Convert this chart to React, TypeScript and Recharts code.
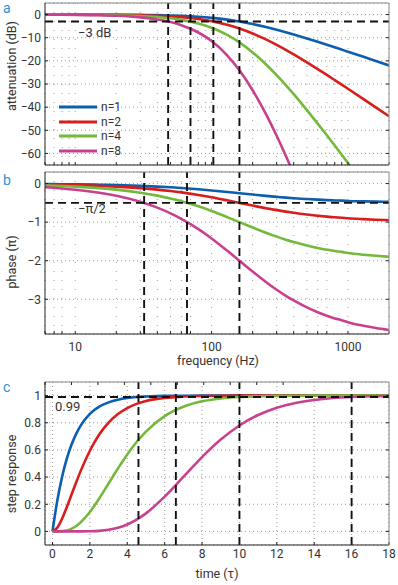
import React from "react";
import { CartesianGrid, Legend, Line, LineChart, ReferenceLine, XAxis, YAxis } from "recharts";

// frequency axis (Hz) shared by panels a and b
const FREQ = [6, 8, 10, 15, 20, 30, 40, 50, 60, 80, 100, 130, 160, 200, 250, 300, 350, 400, 500, 600, 700, 800, 900, 1000, 1300, 1600, 2000];

// attenuation (dB)
const ATT_N1 = [-0.01, -0.01, -0.02, -0.04, -0.07, -0.15, -0.26, -0.41, -0.57, -0.97, -1.43, -2.2, -3.01, -4.09, -5.37, -6.55, -7.62, -8.6, -10.32, -11.78, -13.04, -14.15, -15.14, -16.03, -18.26, -20.04, -21.97];
const ATT_N2 = [-0.01, -0.02, -0.03, -0.08, -0.13, -0.3, -0.53, -0.81, -1.14, -1.94, -2.86, -4.4, -6.02, -8.17, -10.73, -13.1, -15.25, -17.21, -20.64, -23.56, -26.08, -28.3, -30.27, -32.05, -36.52, -40.09, -43.93];
const ATT_N4 = [-0.02, -0.04, -0.07, -0.15, -0.27, -0.6, -1.05, -1.62, -2.28, -3.88, -5.73, -8.8, -12.04, -16.35, -21.47, -26.19, -30.49, -34.41, -41.28, -47.12, -52.16, -56.6, -60.55, -64.11, -73.05, null, null];
const ATT_N8 = [-0.05, -0.09, -0.14, -0.3, -0.54, -1.2, -2.1, -3.24, -4.57, -7.75, -11.46, -17.6, -24.08, -32.7, -42.94, -52.38, -60.99, -68.82, null, null, null, null, null, null, null, null, null];

// phase (units of pi)
const PH_N1 = [-0.012, -0.016, -0.02, -0.03, -0.04, -0.059, -0.078, -0.096, -0.114, -0.148, -0.178, -0.217, -0.25, -0.285, -0.319, -0.344, -0.364, -0.379, -0.401, -0.417, -0.429, -0.437, -0.443, -0.45, -0.461, -0.468, -0.475];
const PH_N2 = [-0.024, -0.032, -0.04, -0.06, -0.079, -0.118, -0.156, -0.193, -0.228, -0.295, -0.356, -0.435, -0.5, -0.57, -0.638, -0.688, -0.727, -0.758, -0.803, -0.834, -0.857, -0.874, -0.885, -0.899, -0.922, -0.937, -0.949];
const PH_N4 = [-0.048, -0.064, -0.079, -0.119, -0.158, -0.236, -0.312, -0.386, -0.457, -0.59, -0.711, -0.869, -1.0, -1.141, -1.275, -1.376, -1.455, -1.516, -1.606, -1.668, -1.714, -1.749, -1.771, -1.798, -1.844, -1.873, -1.898];
const PH_N8 = [-0.095, -0.127, -0.159, -0.238, -0.317, -0.472, -0.624, -0.771, -0.914, -1.181, -1.422, -1.738, -2.0, -2.282, -2.55, -2.752, -2.91, -3.031, -3.211, -3.336, -3.428, -3.498, -3.542, -3.596, -3.688, -3.746, -3.797];

// step response, time in tau
const TIME = [0, 0.25, 0.5, 0.75, 1, 1.25, 1.5, 2, 2.5, 3, 3.5, 4, 4.5, 5, 6, 7, 8, 9, 10, 11, 12, 13, 14, 15, 16, 17, 18];
const STEP_N1 = [0, 0.221, 0.393, 0.528, 0.632, 0.713, 0.777, 0.865, 0.918, 0.95, 0.97, 0.982, 0.989, 0.993, 0.998, 0.999, 1, 1, 1, 1, 1, 1, 1, 1, 1, 1, 1];
const STEP_N2 = [0, 0.026, 0.09, 0.173, 0.264, 0.355, 0.442, 0.594, 0.713, 0.801, 0.864, 0.908, 0.939, 0.96, 0.983, 0.993, 0.997, 0.999, 0.9995, 1, 1, 1, 1, 1, 1, 1, 1];
const STEP_N4 = [0, 0.0001, 0.002, 0.007, 0.019, 0.038, 0.066, 0.143, 0.242, 0.353, 0.463, 0.567, 0.658, 0.735, 0.849, 0.918, 0.958, 0.979, 0.99, 0.995, 0.998, 0.999, 0.9995, 1, 1, 1, 1];
const STEP_N8 = [0, 0, 0, 0, 0, 0, 0.0002, 0.001, 0.004, 0.012, 0.027, 0.051, 0.087, 0.133, 0.256, 0.401, 0.547, 0.676, 0.78, 0.857, 0.911, 0.946, 0.968, 0.982, 0.99, 0.995, 0.997];

// markers
const CUT_3DB = [48, 70, 103, 160];
const CUT_HALF_PI = [32, 66, 160];
const SETTLE_99 = [4.6, 6.6, 10, 16];

// ticks
const FREQ_TICKS = [6, 7, 8, 9, 10, 20, 30, 40, 50, 60, 70, 80, 90, 100, 200, 300, 400, 500, 600, 700, 800, 900, 1000, 2000];
const FREQ_LABELS = [10, 100, 1000];
const ATT_TICKS = [-60, -50, -40, -30, -20, -10, 0];
const PH_TICKS = [-3, -2, -1, 0];
const TIME_TICKS = [0, 2, 4, 6, 8, 10, 12, 14, 16, 18];
const STEP_TICKS = [0, 0.2, 0.4, 0.6, 0.8, 1];

const SERIES = [
  { key: "n1", name: "n=1", color: "#0b5fae" },
  { key: "n2", name: "n=2", color: "#d81d1d" },
  { key: "n4", name: "n=4", color: "#74b83c" },
  { key: "n8", name: "n=8", color: "#c8408f" },
];

const attRows = FREQ.map((f, i) => ({ f, n1: ATT_N1[i], n2: ATT_N2[i], n4: ATT_N4[i], n8: ATT_N8[i] }));
const phRows = FREQ.map((f, i) => ({ f, n1: PH_N1[i], n2: PH_N2[i], n4: PH_N4[i], n8: PH_N8[i] }));
const stepRows = TIME.map((t, i) => ({ t, n1: STEP_N1[i], n2: STEP_N2[i], n4: STEP_N4[i], n8: STEP_N8[i] }));

const FONT = "Roboto, 'DejaVu Sans', sans-serif";
const INK = "#333";
const AXIS = "#222";
const FRAME = "#888";
const GRID = "#9c9c9c";
const tickStyle = { fill: INK, fontSize: 12, fontFamily: FONT };
const minus = (v: number) => String(v).replace("-", "\u2212");
const blank = () => "";
const dash = { stroke: "#111", strokeWidth: 1.9, strokeDasharray: "8 5" };

function NoteLabel({ viewBox, text, dx, dy }: any) {
  return (
    <text x={viewBox.x + dx} y={viewBox.y + dy} fill={INK} fontSize={13} fontFamily={FONT}>
      {text}
    </text>
  );
}

function LegendBox({ payload }: any) {
  return (
    <div style={{ fontFamily: FONT, fontSize: 12, color: INK }}>
      {(payload || []).map((e: any) => (
        <div key={e.value} style={{ display: "flex", alignItems: "center", height: 14.6 }}>
          <svg width={38} height={6}>
            <line x1={0} x2={38} y1={3} y2={3} stroke={e.color} strokeWidth={3} />
          </svg>
          <span style={{ marginLeft: 4, lineHeight: "14px" }}>{e.value}</span>
        </div>
      ))}
    </div>
  );
}

function seriesLines() {
  return SERIES.map((s) => (
    <Line key={s.key} dataKey={s.key} name={s.name} type="monotone" stroke={s.color} strokeWidth={2.6} dot={false} isAnimationActive={false} />
  ));
}

export default function App() {
  return (
    <div style={{ position: "absolute", left: 0, top: 0, width: 398, height: 585, background: "#fff", fontFamily: FONT }}>
      {/* a: attenuation */}
      <div style={{ position: "absolute", left: 0, top: 0 }}>
        <LineChart width={398} height={168} data={attRows} margin={{ top: 2, right: 8, bottom: 2, left: 0 }}>
          <CartesianGrid horizontal={false} stroke={GRID} strokeDasharray="1 8" />
          <CartesianGrid vertical={false} stroke={GRID} strokeDasharray="1 3" />
          <XAxis dataKey="f" type="number" scale="log" domain={[6, 2000]} allowDataOverflow ticks={FREQ_TICKS} tickFormatter={blank} height={1} tickSize={-3} axisLine={{ stroke: AXIS }} tickLine={{ stroke: AXIS }} />
          <XAxis xAxisId="top" orientation="top" type="number" scale="log" domain={[6, 2000]} allowDataOverflow ticks={FREQ_LABELS} tickFormatter={blank} height={1} tickSize={-3} axisLine={{ stroke: FRAME }} tickLine={{ stroke: AXIS }} />
          <YAxis type="number" domain={[-65, 5]} allowDataOverflow ticks={ATT_TICKS} tickFormatter={minus} width={45} tickSize={-3} tickMargin={7} tick={tickStyle} axisLine={{ stroke: AXIS }} tickLine={{ stroke: AXIS }} />
          <YAxis yAxisId="r" orientation="right" type="number" domain={[-65, 5]} allowDataOverflow ticks={ATT_TICKS} tickFormatter={blank} width={1} tickSize={-3} axisLine={{ stroke: FRAME }} tickLine={{ stroke: AXIS }} />
          {seriesLines()}
          {CUT_3DB.map((f) => (
            <ReferenceLine key={f} x={f} {...dash} />
          ))}
          <ReferenceLine y={-3} {...dash} label={<NoteLabel text={"\u22123 dB"} dx={33} dy={15} />} />
          <Legend layout="vertical" align="center" verticalAlign="middle" wrapperStyle={{ left: 59, top: 100, width: 90 }} content={<LegendBox />} />
        </LineChart>
      </div>

      {/* b: phase */}
      <div style={{ position: "absolute", left: 0, top: 168 }}>
        <LineChart width={398} height={200} data={phRows} margin={{ top: 3, right: 8, bottom: 4, left: 0 }}>
          <CartesianGrid horizontal={false} stroke={GRID} strokeDasharray="1 8" />
          <CartesianGrid vertical={false} stroke={GRID} strokeDasharray="1 3" />
          <XAxis dataKey="f" type="number" scale="log" domain={[6, 2000]} allowDataOverflow ticks={FREQ_TICKS} tickFormatter={(v: number) => (FREQ_LABELS.includes(v) ? String(v) : "")} height={30} tickSize={-3} tickMargin={11} tick={tickStyle} axisLine={{ stroke: AXIS }} tickLine={{ stroke: AXIS }} />
          <XAxis xAxisId="top" orientation="top" type="number" scale="log" domain={[6, 2000]} allowDataOverflow ticks={FREQ_LABELS} tickFormatter={blank} height={1} tickSize={-3} axisLine={{ stroke: FRAME }} tickLine={{ stroke: AXIS }} />
          <YAxis type="number" domain={[-3.9, 0.3]} allowDataOverflow ticks={PH_TICKS} tickFormatter={minus} width={45} tickSize={-3} tickMargin={7} tick={tickStyle} axisLine={{ stroke: AXIS }} tickLine={{ stroke: AXIS }} />
          <YAxis yAxisId="r" orientation="right" type="number" domain={[-3.9, 0.3]} allowDataOverflow ticks={PH_TICKS} tickFormatter={blank} width={1} tickSize={-3} axisLine={{ stroke: FRAME }} tickLine={{ stroke: AXIS }} />
          {seriesLines()}
          {CUT_HALF_PI.map((f) => (
            <ReferenceLine key={f} x={f} {...dash} />
          ))}
          <ReferenceLine y={-0.5} {...dash} label={<NoteLabel text={"\u2212\u03c0/2"} dx={33} dy={10} />} />
        </LineChart>
      </div>

      {/* c: step response */}
      <div style={{ position: "absolute", left: 0, top: 370 }}>
        <LineChart width={398} height={215} data={stepRows} margin={{ top: 11, right: 8, bottom: 10, left: 0 }}>
          <CartesianGrid stroke={GRID} strokeDasharray="1 3" />
          <XAxis dataKey="t" type="number" domain={[-0.4, 18]} allowDataOverflow ticks={TIME_TICKS} height={30} tickSize={-3} tickMargin={7} tick={tickStyle} axisLine={{ stroke: AXIS }} tickLine={{ stroke: AXIS }} />
          <XAxis xAxisId="top" orientation="top" type="number" domain={[-0.4, 18]} allowDataOverflow ticks={TIME_TICKS} tickFormatter={blank} height={1} tickSize={-3} axisLine={{ stroke: FRAME }} tickLine={{ stroke: AXIS }} />
          <YAxis type="number" domain={[-0.1, 1.1]} allowDataOverflow ticks={STEP_TICKS} width={45} tickSize={-3} tickMargin={7} tick={tickStyle} axisLine={{ stroke: AXIS }} tickLine={{ stroke: AXIS }} />
          <YAxis yAxisId="r" orientation="right" type="number" domain={[-0.1, 1.1]} allowDataOverflow ticks={STEP_TICKS} tickFormatter={blank} width={1} tickSize={-3} axisLine={{ stroke: FRAME }} tickLine={{ stroke: AXIS }} />
          {seriesLines()}
          {SETTLE_99.map((t) => (
            <ReferenceLine key={t} x={t} {...dash} />
          ))}
          <ReferenceLine y={0.99} {...dash} label={<NoteLabel text="0.99" dx={10} dy={14} />} />
        </LineChart>
      </div>

      {/* panel letters and axis titles */}
      <svg width={398} height={585} style={{ position: "absolute", left: 0, top: 0, pointerEvents: "none" }}>
        <g fill="#2a93d5" fontSize={14} fontFamily={FONT}>
          <text x={3} y={13}>a</text>
          <text x={3} y={185}>b</text>
          <text x={3} y={392}>c</text>
        </g>
        <g fill={INK} fontSize={12.5} fontFamily={FONT} textAnchor="middle" dominantBaseline="central">
          <text transform="translate(11,66) rotate(-90)">attenuation (dB)</text>
          <text transform="translate(11,262) rotate(-90)">phase (π)</text>
          <text transform="translate(11,474) rotate(-90)">step response</text>
          <text x={218} y={360}>frequency (Hz)</text>
          <text x={217} y={573}>time (τ)</text>
        </g>
      </svg>
    </div>
  );
}
